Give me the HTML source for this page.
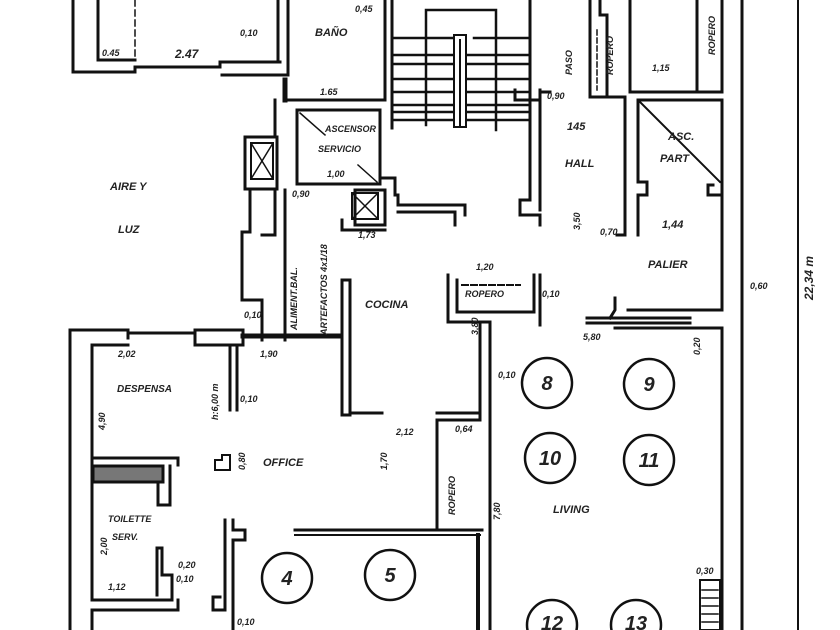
<!DOCTYPE html>
<html><head><meta charset="utf-8"><style>
html,body{margin:0;padding:0;background:#fff;}
svg{display:block}
text{font-family:"Liberation Sans",sans-serif;font-style:italic;font-weight:bold;fill:#222}
</style></head><body>
<svg width="840" height="630" viewBox="0 0 840 630" xmlns="http://www.w3.org/2000/svg">
<g stroke="#111" stroke-width="3" fill="none" stroke-linecap="square">
<!-- top-left block -->
<polyline points="73,0 73,72 135,72 135,67 220,67 220,62 280,62"/>
<polyline points="98,0 98,60 135,60"/>
<line x1="137" y1="67" x2="220" y2="67" stroke-width="2"/>
<line x1="135" y1="0" x2="135" y2="60" stroke-width="1.5" stroke-dasharray="6,4"/>
<polyline points="222,75 288,75 288,0"/>
<line x1="278" y1="0" x2="278" y2="62"/>
<!-- bano -->
<polyline points="287,100 385,100 385,0"/>
<line x1="392" y1="0" x2="392" y2="128"/>
<line x1="285" y1="80" x2="285" y2="100" stroke-width="5"/>
<!-- ascensor -->
<rect x="297" y="110" width="83" height="74"/>
<line x1="300" y1="113" x2="325" y2="135" stroke-width="1.5"/>
<line x1="358" y1="165" x2="377" y2="182" stroke-width="1.5"/>
<line x1="275" y1="100" x2="275" y2="135"/>
<rect x="245" y="137" width="32" height="52"/>
<rect x="251" y="143" width="22" height="36" stroke-width="2"/>
<line x1="251" y1="143" x2="273" y2="179" stroke-width="1.5"/><line x1="273" y1="143" x2="251" y2="179" stroke-width="1.5"/>
<polyline points="250,190 250,232 242,232 242,300 262,300 262,340"/>
<polyline points="275,190 275,235 262,235"/>
<polyline points="285,190 285,340"/>
<polyline points="380,178 395,178 395,195 398,195 398,205 465,205 465,215"/>
<polyline points="398,212 455,212 455,225"/>
<rect x="355" y="190" width="30" height="35"/>
<rect x="352" y="193" width="26" height="26" stroke-width="2"/>
<line x1="352" y1="193" x2="378" y2="219" stroke-width="1.5"/><line x1="378" y1="193" x2="352" y2="219" stroke-width="1.5"/>
<polyline points="342,220 342,230 385,230"/>
<!-- stairs -->
<g stroke-width="2.5">
<line x1="392" y1="38" x2="452" y2="38"/><line x1="474" y1="38" x2="530" y2="38"/>
<line x1="392" y1="55" x2="452" y2="55"/><line x1="468" y1="55" x2="530" y2="55"/>
<line x1="392" y1="64" x2="452" y2="64"/><line x1="468" y1="64" x2="530" y2="64"/>
<line x1="392" y1="79" x2="452" y2="79"/><line x1="468" y1="79" x2="530" y2="79"/>
<line x1="392" y1="92" x2="452" y2="92"/><line x1="468" y1="92" x2="530" y2="92"/>
<line x1="392" y1="105" x2="452" y2="105"/><line x1="468" y1="105" x2="530" y2="105"/>
<line x1="392" y1="112" x2="452" y2="112"/><line x1="468" y1="112" x2="530" y2="112"/>
<line x1="392" y1="120" x2="452" y2="120"/><line x1="468" y1="120" x2="530" y2="120"/>
</g>
<rect x="454" y="35" width="12" height="92" stroke-width="2"/>
<line x1="460" y1="40" x2="460" y2="127" stroke-width="2"/>
<polyline points="426,125 426,10 496,10 496,130" stroke-width="2.5"/>
<!-- hall -->
<polyline points="530,0 530,200 520,200 520,215 540,215 540,225"/>
<line x1="540" y1="90" x2="540" y2="210"/>
<polyline points="515,90 515,100 540,100"/>
<line x1="540" y1="92" x2="550" y2="92"/>
<polyline points="590,0 590,97 625,97 625,235 617,235"/>
<polyline points="600,0 600,15 607,15 607,95"/>
<line x1="597" y1="30" x2="597" y2="90" stroke-width="1.5" stroke-dasharray="5,3"/>
<polyline points="630,0 630,92 722,92 722,0"/>
<polyline points="697,0 697,92"/>
<polyline points="638,100 722,100 722,310 628,310"/>
<polyline points="638,100 638,182 647,182 647,195 638,195 638,235"/>
<polyline points="713,185 708,185 708,195 722,195"/>
<line x1="640" y1="102" x2="720" y2="182" stroke-width="2"/>
<!-- long verticals -->
<line x1="742" y1="0" x2="742" y2="630"/>
<line x1="798" y1="0" x2="798" y2="630" stroke-width="2"/>
<!-- ropero small -->
<polyline points="448,275 448,322 490,322 490,630"/>
<polyline points="457,280 457,312 534,312 534,275"/>
<line x1="540" y1="275" x2="540" y2="325"/>
<line x1="462" y1="285" x2="520" y2="285" stroke-width="2" stroke-dasharray="6,3"/>
<polyline points="615,298 615,310 610,318"/>
<line x1="587" y1="318" x2="690" y2="318"/><line x1="587" y1="323" x2="690" y2="323"/>
<polyline points="615,328 722,328 722,630"/>
<line x1="480" y1="325" x2="480" y2="418"/>
<!-- living column bottom -->
<line x1="478" y1="535" x2="478" y2="630" stroke-width="4"/>
<rect x="700" y="580" width="20" height="50" stroke-width="2"/>
<g stroke-width="1.5"><line x1="702" y1="590" x2="718" y2="590"/><line x1="702" y1="598" x2="718" y2="598"/><line x1="702" y1="606" x2="718" y2="606"/><line x1="702" y1="614" x2="718" y2="614"/><line x1="702" y1="622" x2="718" y2="622"/></g>
<!-- kitchen -->
<rect x="342" y="280" width="8" height="135"/>
<polyline points="350,413 382,413"/>
<polyline points="437,413 480,413 480,420 437,420 437,530"/>
<line x1="437" y1="425" x2="437" y2="525" stroke-width="2" stroke-dasharray="8,5"/>
<line x1="295" y1="530" x2="482" y2="530"/>
<line x1="295" y1="535" x2="480" y2="535" stroke-width="2"/>
<!-- left rooms -->
<polyline points="70,630 70,330 128,330 128,338"/>
<polyline points="128,333 195,333"/>
<rect x="195" y="330" width="48" height="15"/>
<line x1="243" y1="336" x2="340" y2="336" stroke-width="5"/>
<polyline points="92,600 92,345 128,345"/>
<line x1="230" y1="345" x2="230" y2="410"/><line x1="237" y1="345" x2="237" y2="410"/>
<polyline points="92,458 178,458 178,465"/>
<rect x="93" y="466" width="70" height="16" fill="#777"/>
<polyline points="158,482 158,505 170,505 170,466"/>
<polyline points="92,600 172,600 172,575 162,575 162,548 157,548 157,595"/>
<polyline points="92,630 92,610 178,610 178,600"/>
<polyline points="225,520 225,610 213,610 213,597 220,597"/>
<polyline points="233,520 233,530 245,530 245,540 233,540 233,630"/>
</g>
<!-- small object -->
<path d="M215 470 L215 460 L222 460 L222 455 L230 455 L230 470 Z" stroke="#111" stroke-width="2" fill="none"/>
<!-- circles -->
<g stroke="#111" stroke-width="2.5" fill="none">
<circle cx="547" cy="383" r="25"/><circle cx="649" cy="384" r="25"/>
<circle cx="550" cy="458" r="25"/><circle cx="649" cy="460" r="25"/>
<circle cx="552" cy="625" r="25"/><circle cx="636" cy="625" r="25"/>
<circle cx="287" cy="578" r="25"/><circle cx="390" cy="575" r="25"/>
</g>
<g font-size="20" text-anchor="middle">
<text x="547" y="390">8</text><text x="649" y="391">9</text>
<text x="550" y="465">10</text><text x="649" y="467">11</text>
<text x="552" y="630">12</text><text x="636" y="630">13</text>
<text x="287" y="585">4</text><text x="390" y="582">5</text>
</g>
<g font-size="11">
<text x="315" y="36">BAÑO</text>
<text x="110" y="190">AIRE Y</text><text x="118" y="233">LUZ</text>
<text x="325" y="132" font-size="9">ASCENSOR</text><text x="318" y="152" font-size="9">SERVICIO</text>
<text x="365" y="308">COCINA</text>
<text x="565" y="167">HALL</text><text x="567" y="130">145</text>
<text x="668" y="140">ASC.</text><text x="660" y="162">PART</text>
<text x="662" y="228">1,44</text><text x="648" y="268">PALIER</text>
<text x="117" y="392" font-size="10">DESPENSA</text>
<text x="263" y="466">OFFICE</text>
<text x="553" y="513">LIVING</text>
<text x="108" y="522" font-size="9">TOILETTE</text><text x="112" y="540" font-size="9">SERV.</text>
<text x="465" y="297" font-size="9">ROPERO</text>
</g>
<g font-size="9">
<text x="102" y="56">0.45</text><text x="175" y="58" font-size="12">2.47</text>
<text x="240" y="36">0,10</text><text x="355" y="12">0,45</text><text x="320" y="95">1.65</text>
<text x="327" y="177">1,00</text><text x="292" y="197">0,90</text><text x="358" y="238">1,73</text>
<text x="547" y="99">0,90</text><text x="652" y="71">1,15</text><text x="600" y="235">0,70</text>
<text x="750" y="289">0,60</text><text x="476" y="270">1,20</text><text x="542" y="297">0,10</text>
<text x="583" y="340">5,80</text><text x="396" y="435">2,12</text><text x="498" y="378">0,10</text>
<text x="455" y="432">0,64</text><text x="118" y="357">2,02</text><text x="260" y="357">1,90</text>
<text x="244" y="318">0,10</text><text x="240" y="402">0,10</text>
<text x="178" y="568">0,20</text><text x="176" y="582">0,10</text><text x="108" y="590">1,12</text>
<text x="237" y="625">0,10</text><text x="696" y="574">0,30</text>
</g>
<g font-size="9">
<text transform="translate(572,75) rotate(-90)">PASO</text>
<text transform="translate(613,75) rotate(-90)">ROPERO</text>
<text transform="translate(715,55) rotate(-90)">ROPERO</text>
<text transform="translate(455,515) rotate(-90)">ROPERO</text>
<text transform="translate(580,230) rotate(-90)">3,50</text>
<text transform="translate(478,335) rotate(-90)">3,80</text>
<text transform="translate(500,520) rotate(-90)">7,80</text>
<text transform="translate(105,430) rotate(-90)">4,90</text>
<text transform="translate(218,420) rotate(-90)">h:6,00 m</text>
<text transform="translate(387,470) rotate(-90)">1,70</text>
<text transform="translate(297,330) rotate(-90)">ALIMENT.BAL.</text>
<text transform="translate(327,335) rotate(-90)">ARTEFACTOS 4x1/18</text>
<text transform="translate(813,300) rotate(-90)" font-size="12">22,34 m</text>
<text transform="translate(700,355) rotate(-90)">0,20</text>
<text transform="translate(245,470) rotate(-90)">0,80</text>
<text transform="translate(107,555) rotate(-90)">2,00</text>
</g>
</svg>
</body></html>
